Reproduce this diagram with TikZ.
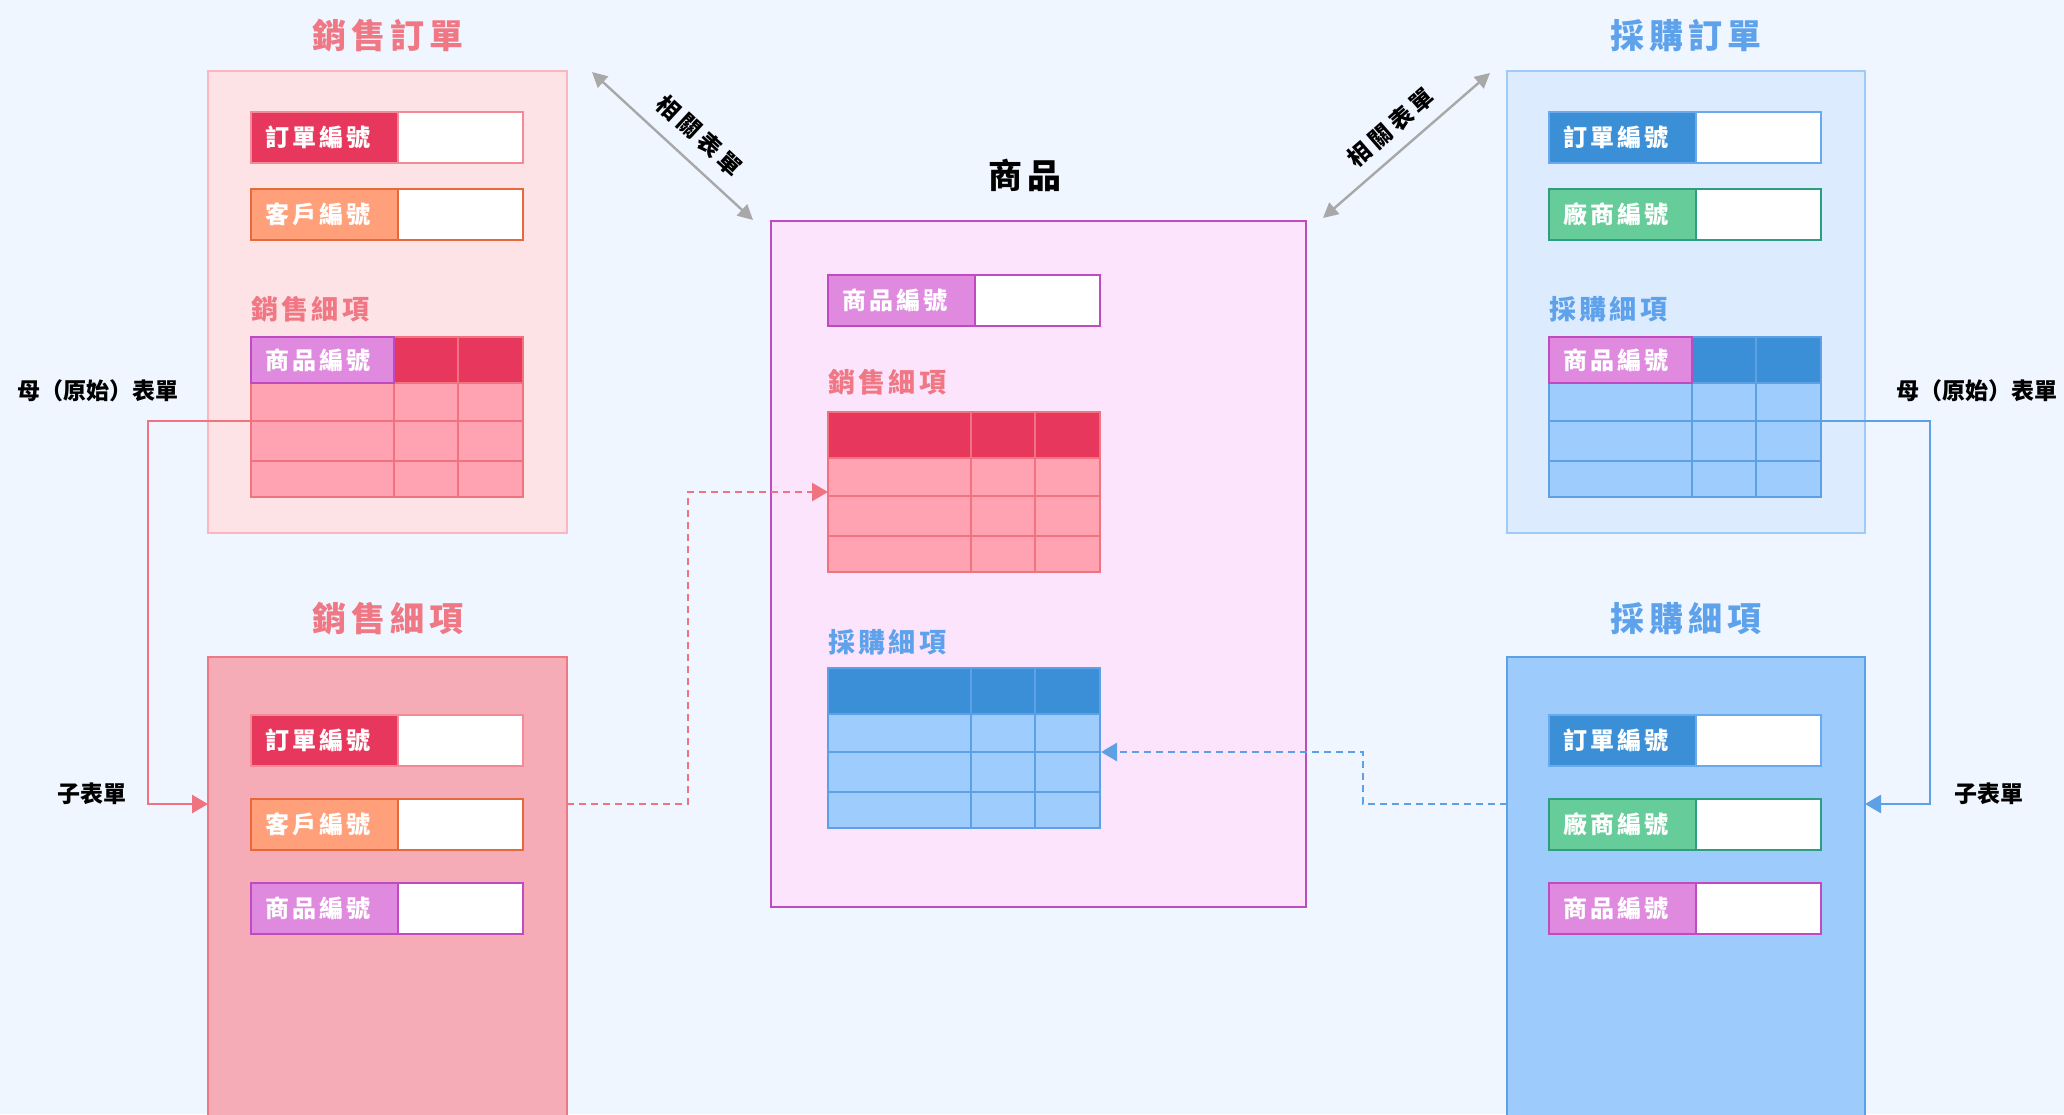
\documentclass[tikz,border=0pt]{standalone}
\usepackage{fontspec}
\setmainfont{Noto Sans CJK TC}
\newfontfamily\fA{Noto Sans CJK TC}[LetterSpace=15]
\newfontfamily\fB{Noto Sans CJK TC}[LetterSpace=12]
\newfontfamily\fC{Noto Sans CJK TC}[LetterSpace=20]
\usetikzlibrary{fit,arrows.meta}

\definecolor{bg}{HTML}{EFF6FF}
\definecolor{soFill}{HTML}{FEE3E6}
\definecolor{soDraw}{HTML}{FDB6BF}
\definecolor{sdFill}{HTML}{F5ACB7}
\definecolor{sdDraw}{HTML}{F07882}
\definecolor{crim}{HTML}{E8375C}
\definecolor{crimD}{HTML}{F28A98}
\definecolor{oran}{HTML}{FFA07A}
\definecolor{oranD}{HTML}{E5693A}
\definecolor{purp}{HTML}{DF8ADF}
\definecolor{purpD}{HTML}{C04BC0}
\definecolor{blu}{HTML}{3A8FD6}
\definecolor{bluD}{HTML}{6AA9EC}
\definecolor{grn}{HTML}{66CC99}
\definecolor{grnD}{HTML}{2E9E80}
\definecolor{prFill}{HTML}{FCE4FC}
\definecolor{prDraw}{HTML}{C04BC0}
\definecolor{poFill}{HTML}{DCEBFD}
\definecolor{poDraw}{HTML}{A0CAF7}
\definecolor{pdFill}{HTML}{9CCBFC}
\definecolor{pdDraw}{HTML}{5EA0E6}
\definecolor{redBody}{HTML}{FFA3B2}
\definecolor{redLine}{HTML}{F07480}
\definecolor{bluBody}{HTML}{9DCCFD}
\definecolor{bluLine}{HTML}{5EA0E6}
\definecolor{salTxt}{HTML}{F07884}
\definecolor{purTxt}{HTML}{5EA2EC}
\definecolor{grayA}{HTML}{A8A8A8}

\tikzset{
  cell/.style={rectangle, inner sep=0pt, outer sep=0pt, line width=1.3pt},
  panel/.style={rectangle, inner sep=0pt, outer sep=0pt, line width=1.3pt},
  titletext/.style={font=\fA\bfseries\fontsize{17pt}{20pt}\selectfont, inner sep=0pt},
  fieldtext/.style={text=white, font=\fB\bfseries\fontsize{12pt}{14pt}\selectfont, inner sep=0pt},
  sublabel/.style={font=\fB\bfseries\fontsize{13.5pt}{16pt}\selectfont, inner sep=0pt, anchor=west},
  notetext/.style={font=\bfseries\fontsize{11.5pt}{14pt}\selectfont, inner sep=0pt, text=black},
  reltext/.style={font=\fC\bfseries\fontsize{11.5pt}{14pt}\selectfont, inner sep=0pt, text=black},
  solidconn/.style={line width=1.4pt, -{Triangle[length=8pt,width=9pt]}},
  dashconn/.style={line width=1.4pt, dash pattern=on 3.5pt off 2.5pt, -{Triangle[length=8pt,width=9pt]}},
  relarrow/.style={draw=grayA, line width=1.2pt, {Triangle[length=7.5pt,width=7.5pt]}-{Triangle[length=7.5pt,width=7.5pt]}}
}

% #1 name, #2 x, #3 y, #4 fill, #5 draw, #6 text
\newcommand\fieldrow[6]{%
  \node[cell, fit={(#2,#3) (#2+272,#3+51)}, draw=#5, fill=white] (#1) {};
  \node[cell, fit={(#2,#3) (#2+147,#3+51)}, draw=#5, fill=#4] (#1-key) {};
  \node[fieldtext, anchor=west] (#1-txt) at ([xshift=7pt]#1-key.west) {#6};
}
% #1 name, #2 x, #3 y, #4 header, #5 body, #6 lines
\newcommand\datatable[6]{%
  \node[cell, fit={(#2,#3) (#2+272,#3+160)}, fill=#5] (#1) {};
  \fill[#4] (#2,#3) rectangle (#2+272,#3+46);
  \draw[#6, line width=1.2pt] (#2,#3) rectangle (#2+272,#3+160)
    (#2+143,#3) -- (#2+143,#3+160) (#2+207,#3) -- (#2+207,#3+160)
    (#2,#3+46) -- (#2+272,#3+46) (#2,#3+84) -- (#2+272,#3+84)
    (#2,#3+124) -- (#2+272,#3+124);
}
% #1 name, #2 x, #3 y
\newcommand\keycell[3]{%
  \node[cell, fit={(#2,#3) (#2+143,#3+46)}, fill=purp, draw=purpD] (#1) {};
  \node[fieldtext, anchor=west] (#1-txt) at ([xshift=7pt]#1.west) {商品編號};
}

\begin{document}
\begin{tikzpicture}[x=0.5pt,y=-0.5pt]
\clip (0,0) rectangle (2064,1114);
\fill[bg] (0,0) rectangle (2064,1114);

% panels
\node[panel, fill=soFill, draw=soDraw, fit={(208,71) (567,533)}] (so) {};
\node[panel, fill=sdFill, draw=sdDraw, fit={(208,657) (567,1140)}] (sd) {};
\node[panel, fill=prFill, draw=prDraw, fit={(771,221) (1306,907)}] (pr) {};
\node[panel, fill=poFill, draw=poDraw, fit={(1507,71) (1865,533)}] (po) {};
\node[panel, fill=pdFill, draw=pdDraw, fit={(1507,657) (1865,1140)}] (pd) {};

% titles
\node[titletext, text=salTxt] (so-title) at (388,36) {銷售訂單};
\node[titletext, text=salTxt] (sd-title) at (388,619) {銷售細項};
\node[titletext, text=black] (pr-title) at (1025,175) {商品};
\node[titletext, text=purTxt] (po-title) at (1686,36) {採購訂單};
\node[titletext, text=purTxt] (pd-title) at (1686,619) {採購細項};

% sales order
\fieldrow{so-ord}{251}{112}{crim}{crimD}{訂單編號}
\fieldrow{so-cus}{251}{189}{oran}{oranD}{客戶編號}
\node[sublabel, text=salTxt] (so-sub) at (251,309) {銷售細項};
\datatable{so-tab}{251}{337}{crim}{redBody}{redLine}
\keycell{so-key}{251}{337}

% sales detail
\fieldrow{sd-ord}{251}{715}{crim}{crimD}{訂單編號}
\fieldrow{sd-cus}{251}{799}{oran}{oranD}{客戶編號}
\fieldrow{sd-prd}{251}{883}{purp}{purpD}{商品編號}

% product
\fieldrow{pr-id}{828}{275}{purp}{purpD}{商品編號}
\node[sublabel, text=salTxt] (pr-sub1) at (828,382) {銷售細項};
\datatable{pr-stab}{828}{412}{crim}{redBody}{redLine}
\node[sublabel, text=purTxt] (pr-sub2) at (828,642) {採購細項};
\datatable{pr-ptab}{828}{668}{blu}{bluBody}{bluLine}

% purchase order
\fieldrow{po-ord}{1549}{112}{blu}{bluD}{訂單編號}
\fieldrow{po-ven}{1549}{189}{grn}{grnD}{廠商編號}
\node[sublabel, text=purTxt] (po-sub) at (1549,309) {採購細項};
\datatable{po-tab}{1549}{337}{blu}{bluBody}{bluLine}
\keycell{po-key}{1549}{337}

% purchase detail
\fieldrow{pd-ord}{1549}{715}{blu}{bluD}{訂單編號}
\fieldrow{pd-ven}{1549}{799}{grn}{grnD}{廠商編號}
\fieldrow{pd-prd}{1549}{883}{purp}{purpD}{商品編號}

% side notes
\node[notetext] (l-parent) at (98,391) {母（原始）表單};
\node[notetext] (l-child) at (92,794) {子表單};
\node[notetext] (r-parent) at (1977,391) {母（原始）表單};
\node[notetext] (r-child) at (1989,794) {子表單};

% connector end points
\coordinate (soLink) at (251,421);
\coordinate (sdIn) at (208,804);
\coordinate (sdOut) at (567,804);
\coordinate (prSIn) at (828,492);
\coordinate (pdOut) at (1507,804);
\coordinate (prPIn) at (1101,752);
\coordinate (poLink) at (1821,421);
\coordinate (pdIn) at (1865,804);
\coordinate (relL1) at (592,72);
\coordinate (relL2) at (753,220);
\coordinate (relR1) at (1323,218);
\coordinate (relR2) at (1490,73);

% connectors
\draw[solidconn, draw=redLine] (soLink) -- (148,421) |- (sdIn);
\draw[dashconn, draw=redLine] (sdOut) -- (688,804) -- (688,492) -- (prSIn);
\draw[dashconn, draw=bluLine] (pdOut) -- (1363,804) -- (1363,752) -- (prPIn);
\draw[solidconn, draw=bluLine] (poLink) -- (1930,421) |- (pdIn);

\draw[relarrow] (relL1) -- node[reltext, sloped, above=7pt, pos=0.56] (relL-txt) {相關表單} (relL2);
\draw[relarrow] (relR1) -- node[reltext, sloped, above=6pt] (relR-txt) {相關表單} (relR2);
\end{tikzpicture}
\end{document}
